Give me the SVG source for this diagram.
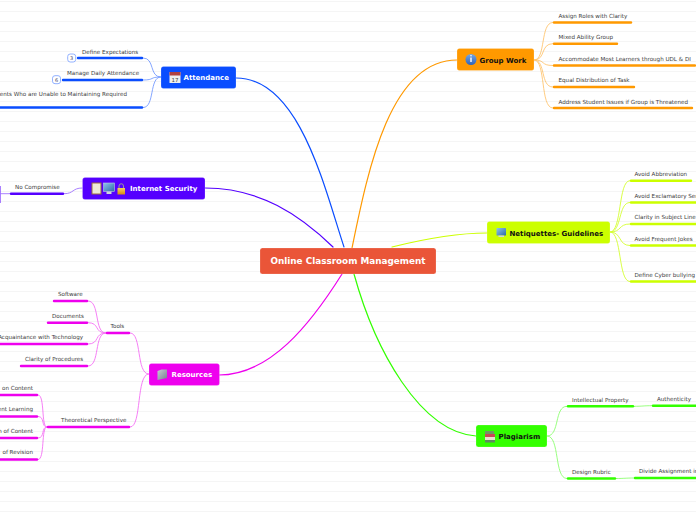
<svg xmlns="http://www.w3.org/2000/svg" width="696" height="520" viewBox="0 0 696 520">
<defs>
<pattern id="grid" width="696" height="10" patternUnits="userSpaceOnUse" y="1"><rect width="696" height="1" fill="#f5f5f5"/></pattern>
<linearGradient id="gold" x1="0" y1="0" x2="0" y2="1"><stop offset="0" stop-color="#f5d060"/><stop offset="1" stop-color="#d98a10"/></linearGradient>
<linearGradient id="blueball" x1="0" y1="0" x2="0" y2="1"><stop offset="0" stop-color="#74a6e6"/><stop offset="1" stop-color="#2f63b8"/></linearGradient>
<linearGradient id="screen" x1="0" y1="0" x2="1" y2="1"><stop offset="0" stop-color="#8fc5ee"/><stop offset="1" stop-color="#2d6aa8"/></linearGradient>
<linearGradient id="folder" x1="0" y1="0" x2="1" y2="1"><stop offset="0" stop-color="#c7ccd4"/><stop offset="1" stop-color="#76808e"/></linearGradient>
</defs>
<style>
text{font-family:"DejaVu Sans","Liberation Sans",sans-serif}
.leaf{font-size:5.6px;fill:#3c3c3c}
.nt{font-size:7px;font-weight:bold}
.w{fill:#fff}.k{fill:#111}
.c{fill:none;stroke-linecap:round}
.main{stroke-width:1.2}
.sub{stroke-width:.9;opacity:.55}
.bar{stroke-width:2.4;stroke-linecap:round;fill:none}
.badge{fill:#fff;stroke:#86a8ff;stroke-width:.9}
.bt{font-size:5px;fill:#446;text-anchor:middle}
.node{stroke:#fff;stroke-opacity:.3;stroke-width:.6}
</style>
<rect width="696" height="520" fill="#fff"/>
<rect width="696" height="520" fill="url(#grid)"/>

<g id="connectors">
<path class="c main" stroke="#ff9900" d="M352 248C368 170 390 60 457 60"/>
<path class="c main" stroke="#ccff00" d="M392 247C420 240 455 233 487 233"/>
<path class="c main" stroke="#33ff00" d="M354 274C375 350 420 432 476 436"/>
<path class="c main" stroke="#ee00ee" d="M342 274C310 325 270 375 219 375"/>
<path class="c main" stroke="#5500ff" d="M333 247C300 215 260 188 205 188"/>
<path class="c main" stroke="#0a4dff" d="M344 247C325 190 300 78 236 78"/>

<g stroke="#ff9900" class="sub" fill="none">
<path d="M534 60C546 60 540 22.500 553 22.500"/><path d="M534 60C546 60 540 43.700 553 43.700"/><path d="M534 60C546 60 540 65.500 553 65.500"/><path d="M534 60C546 60 540 87 553 87"/><path d="M534 60C546 60 540 108 553 108"/>
</g>
<g stroke="#ccff00" class="sub" fill="none" style="opacity:.8">
<path d="M610 232C622 232 618 180.700 630 180.700"/><path d="M610 232C622 232 618 202.500 630 202.500"/><path d="M610 232C622 232 618 224 630 224"/><path d="M610 232C622 232 618 245.500 630 245.500"/><path d="M610 232C622 232 618 281.500 630 281.500"/>
</g>
<g stroke="#33ff00" class="sub" fill="none">
<path d="M547 436C560 436 554 406.300 567 406.300"/><path d="M547 436C560 436 554 478.500 567 478.500"/><path d="M634 406.300C642 406.300 644 405.700 652 405.700"/><path d="M616 478.500C624 478.500 626 478 634 478"/>
</g>
<g stroke="#0a4dff" class="sub" fill="none">
<path d="M161 77C149 77 155 58 143 58"/><path d="M161 77C149 77 155 80 143 80"/><path d="M161 77C149 77 155 107.500 143 107.500"/>
</g>
<g stroke="#5500ff" class="sub" fill="none">
<path d="M82.500 188C72 188 74 193.700 64 193.700"/>
<path d="M10 193.700H0"/><path d="M.5 186V203"/>
</g>
<g stroke="#ee00ee" class="sub" fill="none">
<path d="M149 374C136 374 142 333 130 333"/><path d="M149 374C136 374 142 427 130 427"/>
<path d="M106 333C94 333 100 301 88 301"/><path d="M106 333C94 333 100 322.700 88 322.700"/><path d="M106 333C94 333 100 344 88 344"/><path d="M106 333C94 333 100 366 88 366"/>
<path d="M47 427C41 427 45 395 38 395"/><path d="M47 427C41 427 45 416.500 38 416.500"/><path d="M47 427C41 427 45 438 38 438"/><path d="M47 427C41 427 45 459.500 38 459.500"/>
</g>
</g>

<g id="n-center"><rect class="node" x="260" y="248" width="176" height="26" rx="2.500" fill="#ea5538"/><text x="348" y="264" text-anchor="middle" class="w" font-size="8.850" font-weight="bold">Online Classroom Management</text></g>

<g id="n-groupwork"><rect class="node" x="457" y="48.500" width="77" height="22" rx="2.500" fill="#ff9900"/><circle cx="471" cy="59.500" r="5.500" fill="url(#blueball)"/><rect x="470.300" y="57.500" width="1.400" height="4.500" fill="#fff"/><circle cx="471" cy="55.800" r=".8" fill="#fff"/><text x="479.500" y="63" class="nt k">Group Work</text></g>
<g id="l-gw1"><path class="bar" stroke="#ff9900" d="M554 22.500H631"/><text x="558.500" y="18" class="leaf">Assign Roles with Clarity</text></g>
<g id="l-gw2"><path class="bar" stroke="#ff9900" d="M554 43.700H617"/><text x="558.500" y="39" class="leaf">Mixed Ability Group</text></g>
<g id="l-gw3"><path class="bar" stroke="#ff9900" d="M554 65.500H695"/><text x="558.500" y="61" class="leaf">Accommodate Most Learners through UDL &amp; DI</text></g>
<g id="l-gw4"><path class="bar" stroke="#ff9900" d="M554 87H634"/><text x="558.500" y="82" class="leaf">Equal Distribution of Task</text></g>
<g id="l-gw5"><path class="bar" stroke="#ff9900" d="M554 108H692"/><text x="558.500" y="104" class="leaf">Address Student Issues if Group is Threatened</text></g>

<g id="n-netiquettes"><rect class="node" x="487" y="221.500" width="123" height="22" rx="2.500" fill="#ccff00"/><rect x="496.500" y="228" width="9.500" height="7.500" rx=".5" fill="url(#screen)"/><rect x="498.500" y="235.500" width="5.500" height="1.500" fill="#cfd6dd"/><text x="509.500" y="236" class="nt k">Netiquettes- Guidelines</text></g>
<g id="l-ne1"><path class="bar" stroke="#ccff00" d="M631 180.700H691"/><text x="634.500" y="176" class="leaf">Avoid Abbreviation</text></g>
<g id="l-ne2"><path class="bar" stroke="#ccff00" d="M631 202.500H696"/><text x="634.500" y="198" class="leaf">Avoid Exclamatory Sentences</text></g>
<g id="l-ne3"><path class="bar" stroke="#ccff00" d="M631 224H696"/><text x="634.500" y="219" class="leaf">Clarity in Subject Line</text></g>
<g id="l-ne4"><path class="bar" stroke="#ccff00" d="M631 245.500H696"/><text x="634.500" y="241" class="leaf">Avoid Frequent Jokes</text></g>
<g id="l-ne5"><path class="bar" stroke="#ccff00" d="M631 281.500H696"/><text x="634.500" y="277" class="leaf">Define Cyber bullying</text></g>

<g id="n-plagiarism"><rect class="node" x="476" y="425" width="71" height="22" rx="2.500" fill="#33ff00"/><rect x="485" y="431" width="9" height="3" fill="#6f9a60"/><rect x="485" y="434" width="10" height="3" fill="#c84a55"/><rect x="485" y="437" width="10" height="3" fill="#e8e0d0"/><rect x="485" y="440" width="10" height="2.500" fill="#5f8a60"/><text x="498.500" y="439" class="nt k">Plagiarism</text></g>
<g id="l-pl1"><path class="bar" stroke="#33ff00" d="M568 406.300H633"/><text x="572" y="402" class="leaf">Intellectual Property</text></g>
<g id="l-pl2"><path class="bar" stroke="#33ff00" d="M653 405.700H696"/><text x="657" y="401" class="leaf">Authenticity</text></g>
<g id="l-pl3"><path class="bar" stroke="#33ff00" d="M568 478.500H615"/><text x="572" y="474" class="leaf">Design Rubric</text></g>
<g id="l-pl4"><path class="bar" stroke="#33ff00" d="M635 478H696"/><text x="639" y="473" class="leaf">Divide Assignment into Parts</text></g>

<g id="n-attendance"><rect class="node" x="161" y="66.500" width="75" height="22" rx="2.500" fill="#0a4dff"/><rect x="169.500" y="72" width="11" height="11" fill="#eee"/><rect x="169.500" y="72" width="11" height="3.500" fill="#b04040"/><text x="175" y="82" text-anchor="middle" font-size="5.500" fill="#444">17</text><text x="183.500" y="80" class="nt w">Attendance</text></g>
<g id="l-at1"><path class="bar" stroke="#0a4dff" d="M78 58H142"/><text x="82" y="53.500" class="leaf">Define Expectations</text><rect class="badge" x="67.700" y="54" width="8" height="8" rx="2.500"/><text class="bt" x="71.700" y="60">3</text></g>
<g id="l-at2"><path class="bar" stroke="#0a4dff" d="M63 80H142"/><text x="67" y="75" class="leaf">Manage Daily Attendance</text><rect class="badge" x="52.500" y="75.700" width="8" height="8" rx="2.500"/><text class="bt" x="56.500" y="81.700">6</text></g>
<g id="l-at3"><path class="bar" stroke="#0a4dff" d="M0 107.500H142"/><text x="127" y="96" text-anchor="end" class="leaf">Students Who are Unable to Maintaining Required</text></g>

<g id="n-internet"><rect class="node" x="82.500" y="177.500" width="122.500" height="22" rx="2.500" fill="#5500ff"/><rect x="92" y="183" width="9" height="11" fill="#eee8d8" stroke="#9a6a40" stroke-width="1"/><rect x="103.500" y="183" width="11" height="8.500" fill="url(#screen)" stroke="#bcd" stroke-width=".6"/><rect x="106.500" y="191.500" width="5" height="2.500" fill="#cfd6dd"/><rect x="117.500" y="188" width="7.500" height="6.500" fill="url(#gold)"/><path d="M119 188v-2a2.200 2.200 0 0 1 4.500 0v2" fill="none" stroke="#999" stroke-width="1"/><text x="130" y="191" class="nt w">Internet Security</text></g>
<g id="l-is1"><path class="bar" stroke="#5500ff" d="M11 193.700H63"/><text x="15" y="189" class="leaf">No Compromise</text></g>

<g id="n-resources"><rect class="node" x="149" y="363.500" width="70.500" height="22" rx="2.500" fill="#ee00ee"/><path d="M157.500 371l4-1.500h5.500v8.500l-9.500 2z" fill="url(#folder)"/><text x="171.500" y="377" class="nt w">Resources</text></g>
<g id="l-re1"><path class="bar" stroke="#ee00ee" d="M107 333H129"/><text x="110.500" y="328" class="leaf">Tools</text></g>
<g id="l-re2"><path class="bar" stroke="#ee00ee" d="M54 301H87"/><text x="58" y="296" class="leaf">Software</text></g>
<g id="l-re3"><path class="bar" stroke="#ee00ee" d="M48 322.700H87"/><text x="52" y="318" class="leaf">Documents</text></g>
<g id="l-re4"><path class="bar" stroke="#ee00ee" d="M0 344H87"/><text x="83" y="339" text-anchor="end" class="leaf">Acquaintance with Technology</text></g>
<g id="l-re5"><path class="bar" stroke="#ee00ee" d="M21 366H87"/><text x="25" y="361" class="leaf">Clarity of Procedures</text></g>
<g id="l-re6"><path class="bar" stroke="#ee00ee" d="M48 427H129"/><text x="61" y="422" class="leaf">Theoretical Perspective</text></g>
<g id="l-re7"><path class="bar" stroke="#ee00ee" d="M0 395H37"/><text x="33" y="390" class="leaf" text-anchor="end">on Content</text></g>
<g id="l-re8"><path class="bar" stroke="#ee00ee" d="M0 416.500H37"/><text x="33" y="411" class="leaf" text-anchor="end">ent Learning</text></g>
<g id="l-re9"><path class="bar" stroke="#ee00ee" d="M0 438H37"/><text x="33" y="433" class="leaf" text-anchor="end">n of Content</text></g>
<g id="l-re10"><path class="bar" stroke="#ee00ee" d="M0 459.500H37"/><text x="33" y="454" class="leaf" text-anchor="end">of Revision</text></g>
</svg>
